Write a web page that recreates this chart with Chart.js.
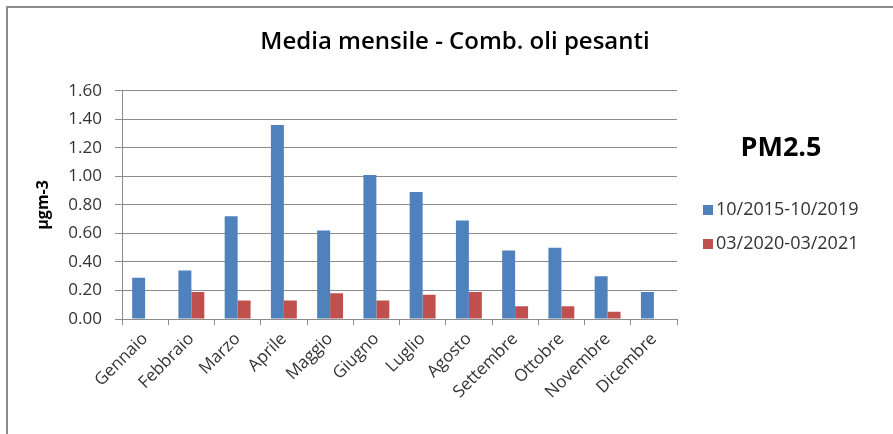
<!DOCTYPE html>
<html>
<head>
<meta charset="utf-8">
<script src="https://cdn.jsdelivr.net/npm/chart.js@4"></script>
<style>
html,body{margin:0;padding:0;background:#fff;}
#wrap{position:relative;width:893px;height:434px;}
</style>
</head>
<body>
<div id="wrap"><canvas id="c" width="893" height="434"></canvas></div>
<script>
const categories = ["Gennaio","Febbraio","Marzo","Aprile","Maggio","Giugno","Luglio","Agosto","Settembre","Ottobre","Novembre","Dicembre"];
const series1Label = "10/2015-10/2019";
const series1 = [0.29,0.34,0.72,1.36,0.62,1.01,0.89,0.69,0.48,0.50,0.30,0.19];
const series2Label = "03/2020-03/2021";
const series2 = [null,0.19,0.13,0.13,0.18,0.13,0.17,0.19,0.09,0.09,0.05,null];
const yTicks = [0,0.2,0.4,0.6,0.8,1.0,1.2,1.4,1.6];
const titleText = "Media mensile - Comb. oli pesanti";
const yTitle = "µgm-3";
const sideTitle = "PM2.5";

const FONT = "'Open Sans', 'Liberation Sans', sans-serif";

const framePlugin = {
  id: 'frame',
  beforeDraw(chart) {
    const ctx = chart.ctx;
    ctx.save();
    ctx.fillStyle = '#fff';
    ctx.fillRect(0,0,chart.width,chart.height);
    ctx.strokeStyle = '#8c8c8c';
    ctx.lineWidth = 2;
    ctx.beginPath();
    ctx.moveTo(7, chart.height);
    ctx.lineTo(7, 7);
    ctx.lineTo(chart.width, 7);
    ctx.stroke();
    ctx.restore();
  }
};

const titleCenterPlugin = {
  id: 'titleCenter',
  afterLayout(chart) {
    const tb = chart.titleBlock;
    if (tb) { tb.left = 0; tb.right = 910; tb.width = 910; }
  }
};

const sideLegendPlugin = {
  id: 'sideLegend',
  afterDraw(chart) {
    const ctx = chart.ctx;
    ctx.save();
    ctx.fillStyle = '#000';
    ctx.font = "bold 27px " + FONT;
    ctx.textAlign = 'center';
    ctx.textBaseline = 'middle';
    ctx.fillText(sideTitle, 781, 148);
    ctx.font = "18px " + FONT;
    ctx.textAlign = 'left';
    const ys = [210, 244];
    chart.data.datasets.forEach((ds, i) => {
      ctx.fillStyle = ds.backgroundColor;
      ctx.fillRect(703, ys[i]-5, 10, 10);
      ctx.fillStyle = '#333';
      ctx.fillText(ds.label, 716, ys[i]);
    });
    ctx.restore();
  }
};

new Chart(document.getElementById('c'), {
  type: 'bar',
  data: {
    labels: categories,
    datasets: [
      {label: series1Label, data: series1, backgroundColor: '#4F81BD', borderWidth: 0},
      {label: series2Label, data: series2, backgroundColor: '#C0504D', borderWidth: 0}
    ]
  },
  options: {
    responsive: false,
    animation: false,
    devicePixelRatio: 1,
    layout: {padding: {left: 0, right: 216, top: 0, bottom: 0}},
    categoryPercentage: 0.56,
    barPercentage: 1.0,
    plugins: {
      legend: {display: false},
      tooltip: {enabled: false},
      title: {
        display: true,
        text: titleText,
        color: '#000',
        font: {family: FONT, size: 24, weight: '600', lineHeight: 1.2},
        padding: {top: 28, bottom: 34}
      }
    },
    scales: {
      x: {
        grid: {display: true, drawOnChartArea: false, drawTicks: true, tickLength: 6, color: '#8c8c8c', offset: true},
        border: {display: true, color: '#8c8c8c', width: 1},
        ticks: {color: '#333', font: {family: FONT, size: 17}, minRotation: 45, maxRotation: 45, padding: 4, autoSkip: false},
        afterFit(scale) { scale.height = 434 - 319; }
      },
      y: {
        min: 0, max: 1.6,
        afterBuildTicks(scale) { scale.ticks = yTicks.map(v => ({value: v})); },
        grid: {color: '#8c8c8c', tickLength: 7, drawTicks: true},
        border: {display: true, color: '#8c8c8c', width: 1},
        ticks: {color: '#333', font: {family: FONT, size: 17}, padding: 13, callback: v => Number(v).toFixed(2)},
        title: {display: true, text: yTitle, color: '#000', font: {family: FONT, size: 16, weight: 'bold', lineHeight: 1.2}, padding: {top: 34, bottom: 0}},
        afterFit(scale) { scale.width = 122; }
      }
    }
  },
  plugins: [framePlugin, titleCenterPlugin, sideLegendPlugin]
});
</script>
</body>
</html>
